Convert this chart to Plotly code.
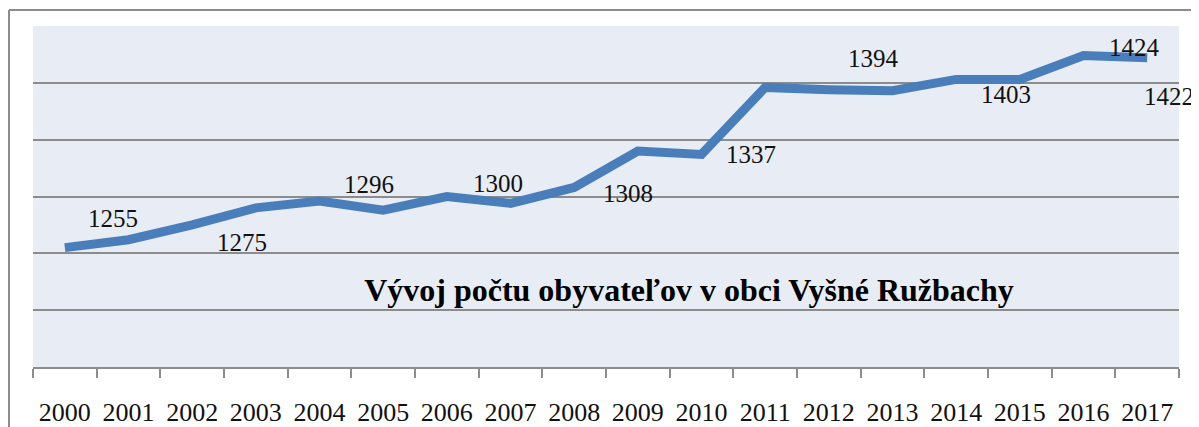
import plotly.graph_objects as go

years = [str(y) for y in range(2000, 2018)]
population = [1255, 1262, 1275, 1290, 1296, 1288, 1300, 1294, 1308, 1340,
              1337, 1396, 1394, 1393, 1403, 1403, 1424, 1422]
labelled_idx = [0, 2, 4, 6, 8, 10, 12, 14, 16, 17]
label_dx = [0.75, 0.79, 0.77, 0.8, 0.85, 0.77, 0.7, 0.78, 0.8, 0.35]
label_dy = [29, -18, 17, 13, -6, 0, 31, -15, 8, -39]
title_text = "Vývoj počtu obyvateľov v obci Vyšné Ružbachy"

FONT = "Liberation Serif, Times New Roman, serif"
LINE_BLUE = "#4A7EBB"
GRID = "#8C8C8C"

# page body has an 8px default margin, so the figure is 8px smaller
W, H = 1191, 419
ML, MR, MT, MB = 25, 20, 18, 60
PW, PH = W - ML - MR, H - MT - MB

fig = go.Figure()
fig.add_trace(go.Scatter(
    x=years, y=population, mode="lines",
    line=dict(color=LINE_BLUE, width=9),
    hoverinfo="x+y", showlegend=False,
))

for k, i in enumerate(labelled_idx):
    fig.add_annotation(
        x=i + label_dx[k], y=population[i], xref="x", yref="y",
        text=str(population[i]), showarrow=False, yshift=label_dy[k],
        font=dict(family=FONT, size=25, color="#111111"),
    )

fig.update_layout(
    width=W, height=H,
    margin=dict(l=ML, r=MR, t=MT, b=MB),
    paper_bgcolor="white", plot_bgcolor="#E8ECF4",
    title=dict(text=f"<b>{title_text}</b>", xref="paper", yref="paper",
               x=(689 - 33) / PW, xanchor="center",
               y=(367 - 290) / PH, yanchor="middle",
               font=dict(family=FONT, size=32, color="#000000")),
    font=dict(family=FONT),
)
fig.update_xaxes(
    type="category", range=[-0.5, 17.5], showgrid=False, automargin=False,
    showline=True, linecolor=GRID, linewidth=2,
    ticks="outside", tickson="boundaries", ticklen=9, tickcolor=GRID, tickwidth=2,
    tickfont=dict(family=FONT, size=26, color="#111111"),
    ticklabelstandoff=21,
)
fig.update_yaxes(
    range=[1150, 1450], dtick=50, showgrid=True, gridcolor=GRID, gridwidth=2,
    showticklabels=False, zeroline=False, showline=False, automargin=False,
)

# outer chart frame (top and left edges visible)
fx = -(ML - 1) / PW
fy = 1 + (MT - 2) / PH
fig.add_shape(type="line", xref="paper", yref="paper",
              x0=fx, x1=1 + MR / PW, y0=fy, y1=fy,
              line=dict(color="#8C8C8C", width=2))
fig.add_shape(type="line", xref="paper", yref="paper",
              x0=fx, x1=fx, y0=fy, y1=-MB / PH,
              line=dict(color="#8C8C8C", width=2))

fig.write_html("out.html", post_script="document.body.style.overflow='hidden';")
